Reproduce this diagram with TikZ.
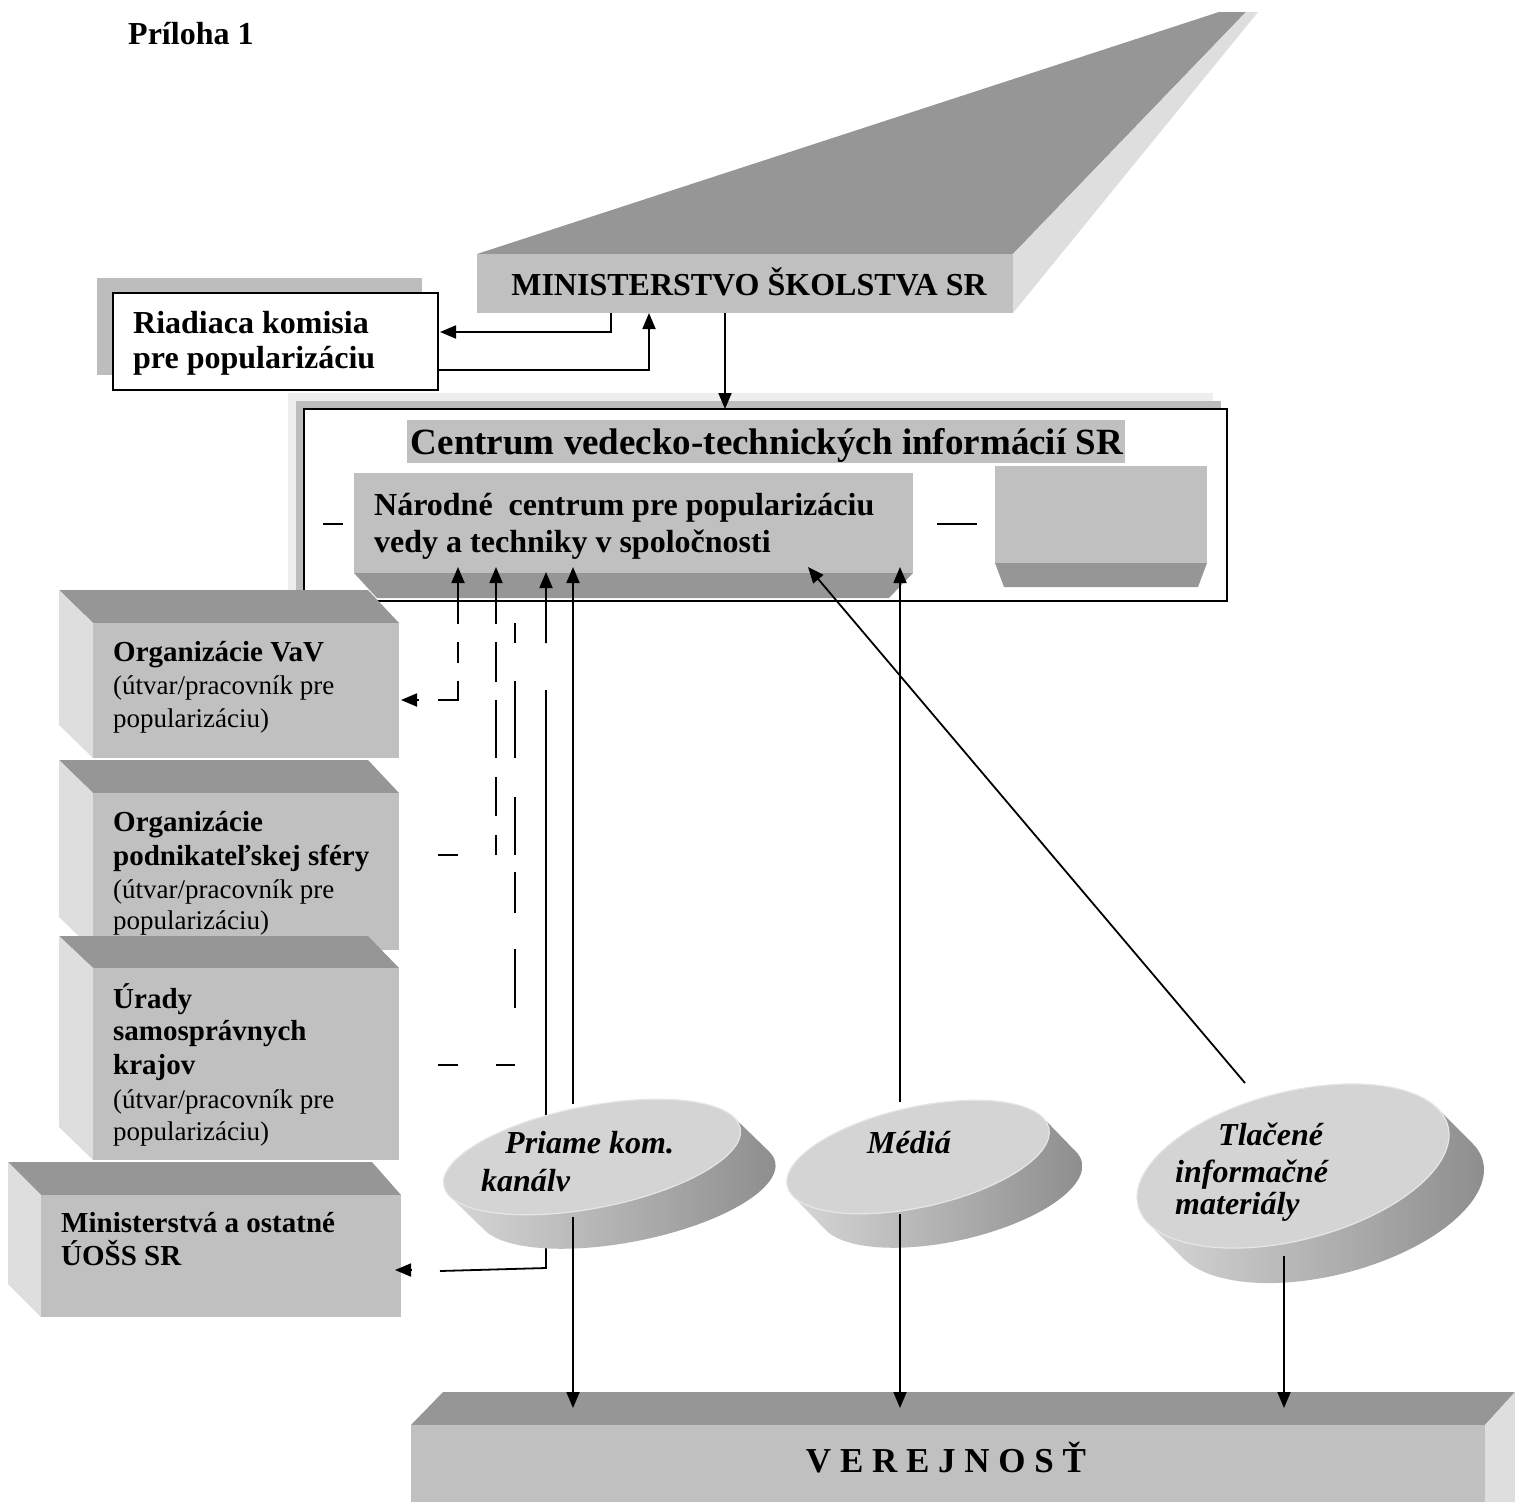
\documentclass[tikz,border=0pt]{standalone}
\usepackage{fontspec}
\setmainfont{Liberation Serif}
\usetikzlibrary{arrows.meta}
\definecolor{frontc}{HTML}{C0C0C0}
\definecolor{topc}{HTML}{969696}
\definecolor{sidec}{HTML}{DEDEDE}
\definecolor{disktop}{HTML}{D4D4D4}
\definecolor{diskrim}{HTML}{E6E6E6}
\definecolor{diskL}{HTML}{D6D6D6}
\definecolor{diskR}{HTML}{8E8E8E}
\definecolor{shadowc}{HTML}{BDBDBD}
\definecolor{shadowl}{HTML}{EEEEEE}

% name, cx, cy, a, b, rot, dx, dy
\newcommand\diskshape[8]{%
  \begin{scope}[shift={(#2,#3)},rotate=#6]
    \pgfmathsetmacro\dlx{#7*cos(#6)-#8*sin(#6)}
    \pgfmathsetmacro\dly{#7*sin(#6)+#8*cos(#6)}
    \pgfmathsetmacro\dtz{atan2(-#5*\dlx,#4*\dly)}
    \pgfmathsetmacro\dte{\dtz+180}
    \shade[left color=diskL,right color=diskR]
      plot[domain=\dtz:\dte,samples=60] ({\dlx+#4*cos(\x)},{\dly+#5*sin(\x)})
      -- plot[domain=\dte:\dtz,samples=60] ({#4*cos(\x)},{#5*sin(\x)}) -- cycle;
    \fill[disktop,draw=diskrim,line width=1.2pt] (0,0) ellipse [x radius=#4, y radius=#5];
    \coordinate (#1) at (0,0);
  \end{scope}}

\begin{document}
\begin{tikzpicture}[x=1pt,y=-1pt,
  conn/.style={line width=1.8pt},
  tipu/.style={-{Triangle[length=16pt,width=13pt]}},
  txt/.style={inner sep=0pt,anchor=base west},
  face/.style={inner sep=0pt,outer sep=0pt},
  t32b/.style={font=\fontsize{32}{38}\selectfont\bfseries},
  t37b/.style={font=\fontsize{37}{44}\selectfont\bfseries},
  t35b/.style={font=\fontsize{35}{42}\selectfont\bfseries},
  t29b/.style={font=\fontsize{29}{34}\selectfont\bfseries},
  t27/.style={font=\fontsize{27}{32}\selectfont},
  t32bi/.style={font=\fontsize{32}{38}\selectfont\bfseries\itshape}]
\useasboundingbox (0,0) rectangle (1515,1502);

\node[txt,t32b] (pril) at (128,44) {Príloha 1};

% Ministry
\fill[topc] (477,254) -- (1013,254) -- (1246,12) -- (1219,12) -- cycle;
\fill[sidec] (1013,254) -- (1246,12) -- (1258,12) -- (1013,313) -- cycle;
\node[face,fill=frontc,minimum width=536,minimum height=59] (min) at (745,283.5) {};
\node[txt,t32b,anchor=base] (minT) at (749,295) {MINISTERSTVO ŠKOLSTVA SR};

% Riadiaca komisia
\fill[shadowc] (97,278) rectangle (422,375);
\node[face,draw,line width=2pt,fill=white,minimum width=325,minimum height=97] (riad) at (275.5,341.5) {};
\node[txt,t32b] (riad1) at (133,333) {Riadiaca komisia};
\node[txt,t32b] (riad2) at (133,368) {pre popularizáciu};

% CVTI
\fill[shadowl] (288,393) rectangle (1213,600);
\fill[shadowc] (296,401) rectangle (1221,601);
\node[face,draw,line width=2.2pt,fill=white,minimum width=923,minimum height=192] (cvti) at (765.5,505) {};
\fill[frontc] (407,420) rectangle (1125,463);
\node[txt,t37b,anchor=base] (cvtiT) at (767,454) {Centrum vedecko-technických informácií SR};

% Narodne centrum
\fill[topc] (354,573) -- (913,573) -- (889,598) -- (377,598) -- cycle;
\node[face,fill=frontc,minimum width=559,minimum height=100] (nar) at (633.5,523) {};
\node[txt,t32b] (nar1) at (374,515) {Národné\hspace{0.25em} centrum pre popularizáciu};
\node[txt,t32b] (nar2) at (374,552) {vedy a techniky v spoločnosti};

% right empty box
\fill[topc] (995,563) -- (1207,563) -- (1198,587) -- (1004,587) -- cycle;
\node[face,fill=frontc,minimum width=212,minimum height=97] (rbox) at (1101,514.5) {};

% left blocks
\fill[topc] (59,590) -- (368,590) -- (399,623) -- (93,623) -- cycle;
\fill[sidec] (59,590) -- (93,623) -- (93,758) -- (59,725) -- cycle;
\node[face,fill=frontc,minimum width=306,minimum height=135] (vav) at (246,690.5) {};
\node[txt,t29b] (vav1) at (113,661) {Organizácie VaV};
\node[txt,t27] (vav2) at (113,694) {(útvar/pracovník pre};
\node[txt,t27] (vav3) at (113,727) {popularizáciu)};

\fill[topc] (59,760) -- (368,760) -- (399,793) -- (93,793) -- cycle;
\fill[sidec] (59,760) -- (93,793) -- (93,950) -- (59,917) -- cycle;
\node[face,fill=frontc,minimum width=306,minimum height=157] (pod) at (246,871.5) {};
\node[txt,t29b] (pod1) at (113,831) {Organizácie};
\node[txt,t29b] (pod2) at (113,865) {podnikateľskej sféry};
\node[txt,t27] (pod3) at (113,898) {(útvar/pracovník pre};
\node[txt,t27] (pod4) at (113,929) {popularizáciu)};

\fill[topc] (59,936) -- (368,936) -- (399,968) -- (93,968) -- cycle;
\fill[sidec] (59,936) -- (93,968) -- (93,1160) -- (59,1127) -- cycle;
\node[face,fill=frontc,minimum width=306,minimum height=192] (ura) at (246,1064) {};
\node[txt,t29b] (ura1) at (113,1008) {Úrady};
\node[txt,t29b] (ura2) at (113,1040) {samosprávnych};
\node[txt,t29b] (ura3) at (113,1074) {krajov};
\node[txt,t27] (ura4) at (113,1108) {(útvar/pracovník pre};
\node[txt,t27] (ura5) at (113,1140) {popularizáciu)};

\fill[topc] (8,1162) -- (372,1162) -- (401,1195) -- (41,1195) -- cycle;
\fill[sidec] (8,1162) -- (41,1195) -- (41,1317) -- (8,1284) -- cycle;
\node[face,fill=frontc,minimum width=360,minimum height=122] (mino) at (221,1256) {};
\node[txt,t29b] (mino1) at (61,1232) {Ministerstvá a ostatné};
\node[txt,t29b] (mino2) at (61,1265) {ÚOŠS SR};

% Verejnost
\fill[topc] (443,1392) -- (1515,1392) -- (1485,1425) -- (411,1425) -- cycle;
\fill[sidec] (1485,1425) -- (1515,1392) -- (1515,1502) -- (1485,1502) -- cycle;
\node[face,fill=frontc,minimum width=1074,minimum height=77] (ver) at (948,1463.5) {};
\node[txt,t35b,anchor=base] (verT) at (946,1472) {V E R E J N O S Ť};

% connectors ministry
\coordinate (m1) at (611,313); \coordinate (r1) at (440,332);
\coordinate (r2) at (438,370); \coordinate (m2) at (649,313);
\coordinate (m3) at (725,313); \coordinate (c1) at (725,409);
\draw[conn,tipu] (m1) |- (r1);
\draw[conn,tipu] (r2) -| (m2);
\draw[conn,tipu] (m3) -- (c1);

% small dashes in CVTI
\draw[conn,dash pattern=on 0pt off 19pt on 20pt off 100pt] (304,524) -- (354,524);
\draw[conn,dash pattern=on 0pt off 24pt on 40pt off 100pt] (913,524) -- (995,524);

% dashed connectors to left blocks
\coordinate (a1) at (458,580); \coordinate (a1c) at (458,700); \coordinate (a1e) at (419,700);
\draw[conn,dash pattern=on 44pt off 18pt on 21pt off 18pt on 39pt off 100pt] (a1) -- (a1c) -- (a1e);
\draw[conn,tipu] (458,590) -- (458,567);
\draw[conn,tipu] (a1e) -- (401,700);

\coordinate (b1) at (496,580); \coordinate (b1c) at (496,855); \coordinate (b1e) at (438,855);
\draw[conn,dash pattern=on 44pt off 18pt on 40pt off 18pt on 58pt off 19pt on 39pt off 19pt on 20pt off 38pt on 20pt off 100pt] (b1) -- (b1c) -- (b1e);
\draw[conn,tipu] (496,590) -- (496,567);

\coordinate (e1) at (515,623); \coordinate (e1c) at (515,1065); \coordinate (e1e) at (438,1065);
\draw[conn,dash pattern=on 20pt off 38pt on 77pt off 39pt on 58pt off 17pt on 41pt off 36pt on 59pt off 57pt on 19pt off 38pt on 20pt off 100pt] (e1) -- (e1c) -- (e1e);

\coordinate (d1) at (546,590); \coordinate (d1c) at (546,1268); \coordinate (d1e) at (440,1271);
\draw[conn,dash pattern=on 53pt off 47pt on 2000pt] (d1) -- (d1c) -- (d1e);
\draw[conn,tipu] (546,600) -- (546,572);
\draw[conn,tipu] (412,1270) -- (395,1270);

% disks
\diskshape{priame}{592}{1157}{151}{51}{11}{35}{34}
\diskshape{media}{918}{1157}{134}{50}{12.5}{33}{34}
\diskshape{tlac}{1293}{1166}{160}{74}{14.5}{35}{35}

\node[txt,t32bi] (pr1) at (505,1153) {Priame kom.};
\node[txt,t32bi] (pr2) at (481,1191) {kanálv};
\node[txt,t32bi] (me1) at (867,1153) {Médiá};
\node[txt,t32bi] (tl1) at (1218,1145) {Tlačené};
\node[txt,t32bi] (tl2) at (1175,1182) {informačné};
\node[txt,t32bi] (tl3) at (1175,1214) {materiály};

% solid connectors
\draw[conn,tipu] (573,1104) -- (573,567);
\draw[conn,tipu] (573,1217) -- (573,1408);
\draw[conn,tipu] (900,1102) -- (900,567);
\draw[conn,tipu] (900,1214) -- (900,1408);
\draw[conn,tipu] (1284,1256) -- (1284,1408);
\draw[conn,tipu] (1245,1083) -- (808,567);
\end{tikzpicture}
\end{document}
